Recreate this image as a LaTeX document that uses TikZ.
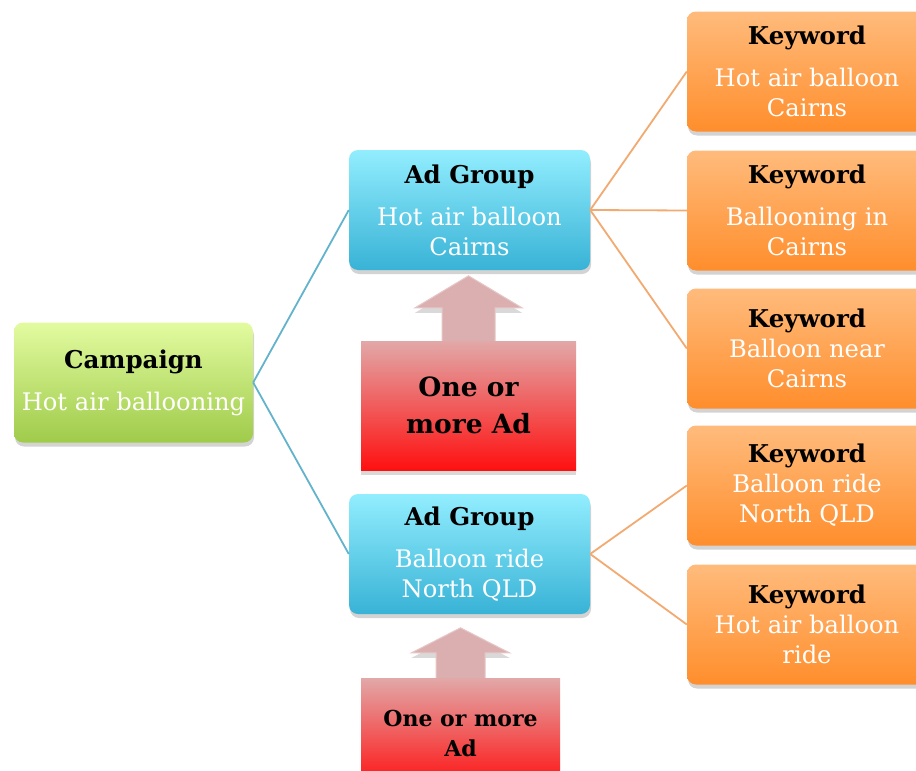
\documentclass[tikz,border=0pt]{standalone}
\usepackage{fontspec}
\setmainfont{DejaVu Serif}
\usetikzlibrary{shadows, positioning, backgrounds}

\definecolor{campTop}{HTML}{E2FBA0}
\definecolor{campBot}{HTML}{9FCB4A}
\definecolor{groupTop}{HTML}{92EEFE}
\definecolor{groupBot}{HTML}{38B2D6}
\definecolor{kwTop}{HTML}{FFBB7C}
\definecolor{kwBot}{HTML}{FF8E2C}
\definecolor{adTop}{HTML}{E2A8A8}
\definecolor{adBot}{HTML}{FF1010}
\definecolor{headFill}{HTML}{DBAFAF}
\definecolor{blueLine}{HTML}{62B3CB}
\definecolor{orangeLine}{HTML}{F2AA70}

\begin{document}
\begin{tikzpicture}[
    x=1pt, y=-1pt,
    box/.style={rectangle, rounded corners=9pt, minimum width=240pt, minimum height=120pt, align=center, text=white, font=\fontsize{24.2}{30}\selectfont, drop shadow={opacity=0.35, shadow xshift=1pt, shadow yshift=-4pt}},
    campbox/.style={box, top color=campTop, bottom color=campBot},
    groupbox/.style={box, top color=groupTop, bottom color=groupBot},
    kwbox/.style={box, top color=kwTop, bottom color=kwBot},
    adbody/.style={rectangle, top color=adTop, bottom color=adBot, align=center, font=\bfseries\fontsize{26.5}{37}\selectfont, drop shadow={opacity=0.3, shadow xshift=0pt, shadow yshift=-5pt}},
    adhead/.style={fill=headFill, draw=headFill!70!white, line width=1pt, drop shadow={opacity=0.3, shadow xshift=0pt, shadow yshift=-5pt}},
    blink/.style={draw=blueLine, line width=1.8pt},
    olink/.style={draw=orangeLine, line width=1.8pt}
]
    \useasboundingbox (0,0) rectangle (916,771);
    \newcommand{\hd}[1]{\textcolor{black}{\bfseries\fontsize{24.5}{30}\selectfont #1}}

    % boxes
    \node (camp) [campbox, minimum width=239pt] at (133.5,382.5) {\hd{Campaign}\\[12pt]Hot air ballooning};
    \node (ag1) [groupbox, minimum width=241pt] at (469.5,210) {\hd{Ad Group}\\[12pt]Hot air balloon\\Cairns};
    \node (ag2) [groupbox, minimum width=241pt] at (469.5,554) {\hd{Ad Group}\\[12pt]Balloon ride\\North QLD};

    \node (kw1) [kwbox] at (807,71.5) {\hd{Keyword}\\[12pt]Hot air balloon\\Cairns};
    \node (kw2) [kwbox] at (807,210.5) {\hd{Keyword}\\[12pt]Ballooning in\\Cairns};
    \node (kw3) [kwbox] at (807,348.5) {\hd{Keyword}\\Balloon near\\Cairns};
    \node (kw4) [kwbox] at (807,485.5) {\hd{Keyword}\\Balloon ride\\North QLD};
    \node (kw5) [kwbox] at (807,624.5) {\hd{Keyword}\\Hot air balloon\\ride};

    % block arrows
    \node (ads1) [adbody, minimum width=215pt, minimum height=129pt] at (468.5,405.5) {One or\\more Ad};
    \node (ads2) [adbody, minimum width=199pt, minimum height=110pt, font=\bfseries\fontsize{22}{30}\selectfont] at (460.5,733) {One or more\\Ad};
    \begin{scope}[on background layer]
        \path[adhead, shift={(ads1.north)}] (-26.5,2) -- (-26.5,-33) -- (-53.5,-33) -- (0,-65) -- (53.5,-33) -- (26.5,-33) -- (26.5,2) -- cycle;
        \path[adhead, shift={(ads2.north)}] (-24.5,2) -- (-24.5,-25) -- (-49,-25) -- (0,-50) -- (49,-25) -- (24.5,-25) -- (24.5,2) -- cycle;
    \end{scope}

    % links
    \draw[blink] (camp.east) -- (ag1.west);
    \draw[blink] (camp.east) -- (ag2.west);
    \foreach \k in {kw1,kw2,kw3}
        \draw[olink] (ag1.east) -- (\k.west);
    \foreach \k in {kw4,kw5}
        \draw[olink] (ag2.east) -- (\k.west);
\end{tikzpicture}
\end{document}
